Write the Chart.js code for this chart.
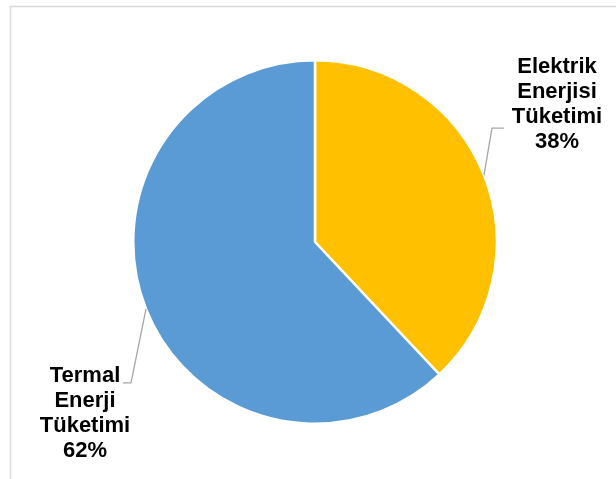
<!DOCTYPE html>
<html>
<head>
<meta charset="utf-8">
<script src="https://cdn.jsdelivr.net/npm/chart.js@4"></script>
<style>
html,body{margin:0;padding:0;background:#fff;}
#wrap{position:relative;width:616px;height:479px;}
</style>
</head>
<body>
<div id="wrap"><canvas id="c" width="616" height="479"></canvas></div>
<script>
const categories = ["Elektrik Enerjisi Tüketimi", "Termal Enerji Tüketimi"];
const labelLines = [["Elektrik", "Enerjisi", "Tüketimi"], ["Termal", "Enerji", "Tüketimi"]];
const values = [38, 62];
const colors = ["#FFC000", "#5B9BD5"];

const labelPlugin = {
  id: 'extLabels',
  beforeDraw(chart) {
    const ctx = chart.ctx;
    ctx.save();
    ctx.strokeStyle = '#d9d9d9';
    ctx.lineWidth = 1.5;
    ctx.beginPath();
    ctx.moveTo(10.5, 479);
    ctx.lineTo(10.5, 6.5);
    ctx.lineTo(616, 6.5);
    ctx.stroke();
    ctx.restore();
  },
  afterDraw(chart) {
    const ctx = chart.ctx;
    const meta = chart.getDatasetMeta(0);
    const total = values.reduce((a, b) => a + b, 0);
    const cfg = [
      { tx: 557, ty: 73, elbow: [8, -47], end: [20, -47] },
      { tx: 85, ty: 382, elbow: [-15, 74], end: [-23, 74] }
    ];
    meta.data.forEach((arc, i) => {
      const mid = (arc.startAngle + arc.endAngle) / 2;
      const ax = arc.x + Math.cos(mid) * arc.outerRadius;
      const ay = arc.y + Math.sin(mid) * arc.outerRadius;
      const c = cfg[i];
      ctx.save();
      ctx.strokeStyle = '#a6a6a6';
      ctx.lineWidth = 1.3;
      ctx.beginPath();
      ctx.moveTo(ax, ay);
      ctx.lineTo(ax + c.elbow[0], ay + c.elbow[1]);
      ctx.lineTo(ax + c.end[0], ay + c.end[1]);
      ctx.stroke();
      ctx.fillStyle = '#000';
      ctx.font = 'bold 22px "Liberation Sans", Arial, sans-serif';
      ctx.textAlign = 'center';
      ctx.textBaseline = 'alphabetic';
      const lines = labelLines[i].concat([Math.round(values[i] / total * 100) + '%']);
      lines.forEach((t, k) => ctx.fillText(t, c.tx, c.ty + k * 25));
      ctx.restore();
    });
  }
};

new Chart(document.getElementById('c'), {
  type: 'pie',
  data: {
    labels: categories,
    datasets: [{
      data: values,
      backgroundColor: colors,
      borderColor: '#ffffff',
      borderWidth: 2.5
    }]
  },
  options: {
    responsive: false,
    animation: false,
    rotation: 0,
    layout: { padding: { top: 59, bottom: 54, left: 130, right: 116 } },
    plugins: { legend: { display: false }, tooltip: { enabled: false } }
  },
  plugins: [labelPlugin]
});
</script>
</body>
</html>
